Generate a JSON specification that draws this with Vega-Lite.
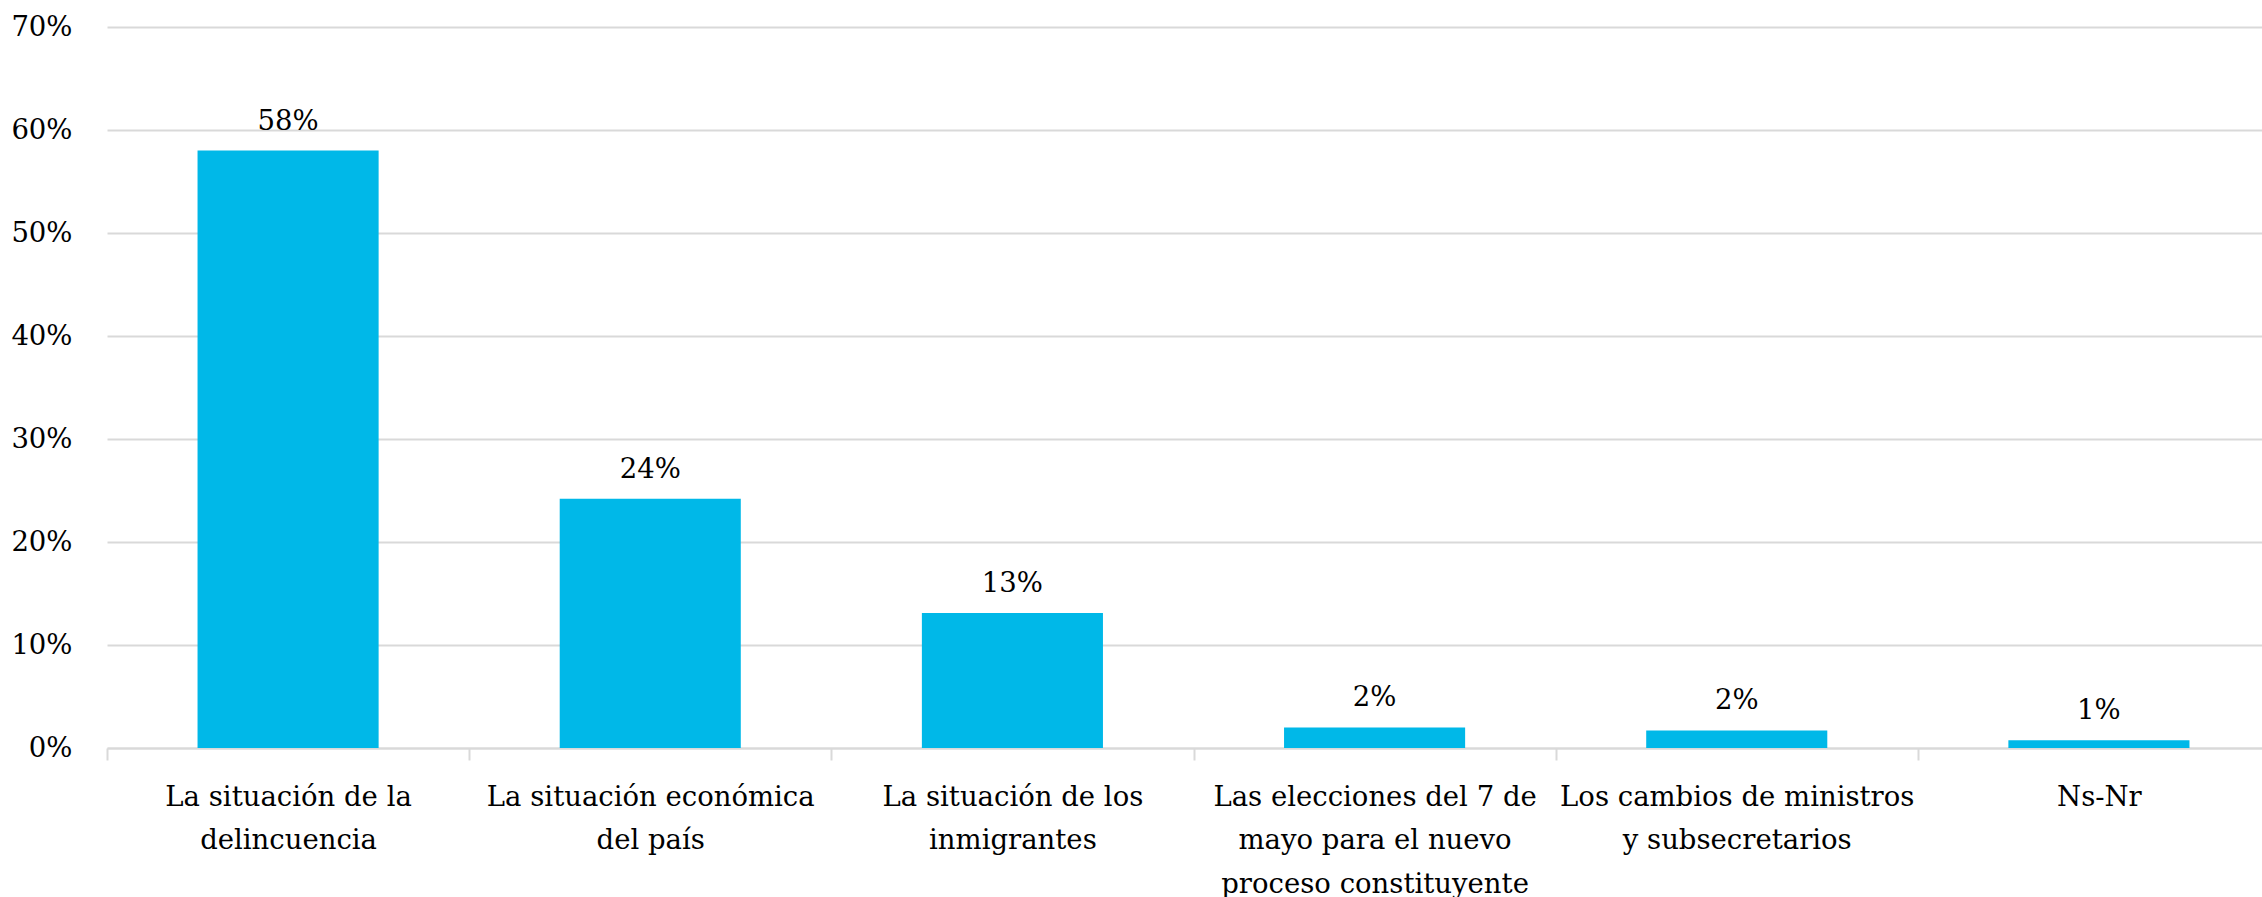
{
  "$schema": "https://vega.github.io/schema/vega-lite/v6.json",
  "width": 2173,
  "height": 721,
  "padding": {"left": 10, "top": 13, "right": 0, "bottom": 0},
  "background": "white",
  "data": {
    "values": [
      {"cat": "La situación de la\ndelincuencia", "value": 0.580},
      {"cat": "La situación económica\ndel país", "value": 0.242},
      {"cat": "La situación de los\ninmigrantes", "value": 0.131},
      {"cat": "Las elecciones del 7 de\nmayo para el nuevo\nproceso constituyente", "value": 0.020},
      {"cat": "Los cambios de ministros\ny subsecretarios", "value": 0.017},
      {"cat": "Ns-Nr", "value": 0.0075}
    ]
  },
  "config": {
    "view": {"stroke": null},
    "font": "DejaVu Serif"
  },
  "encoding": {
    "x": {
      "field": "cat",
      "type": "nominal",
      "sort": null,
      "scale": {"paddingInner": 0, "paddingOuter": 0},
      "axis": {
        "title": null,
        "labelAngle": 0,
        "labelExpr": "split(datum.label, '\\n')",
        "labelFont": "DejaVu Serif",
        "labelFontSize": 27.5,
        "labelLineHeight": 43.5,
        "labelColor": "#000000",
        "labelPadding": 23,
        "labelLimit": 0,
        "domainColor": "#D9D9D9",
        "domainWidth": 2,
        "tickColor": "#D9D9D9",
        "tickWidth": 2,
        "tickSize": 12,
        "tickBand": "extent",
        "grid": false
      }
    },
    "y": {
      "field": "value",
      "type": "quantitative",
      "scale": {"domain": [0, 0.7]},
      "axis": {
        "title": null,
        "format": ".0%",
        "values": [0, 0.1, 0.2, 0.3, 0.4, 0.5, 0.6, 0.7],
        "labelFont": "DejaVu Serif",
        "labelFontSize": 27.5,
        "labelColor": "#000000",
        "labelPadding": 35,
        "domain": false,
        "ticks": false,
        "grid": true,
        "gridColor": "#D9D9D9",
        "gridWidth": 2
      }
    }
  },
  "layer": [
    {"mark": {"type": "bar", "color": "#00B8E8", "width": {"band": 0.5}}},
    {
      "mark": {"type": "text", "baseline": "alphabetic", "dy": -21, "fontSize": 27.5, "font": "DejaVu Serif", "color": "#000000"},
      "encoding": {"text": {"field": "value", "format": ".0%"}}
    }
  ]
}
